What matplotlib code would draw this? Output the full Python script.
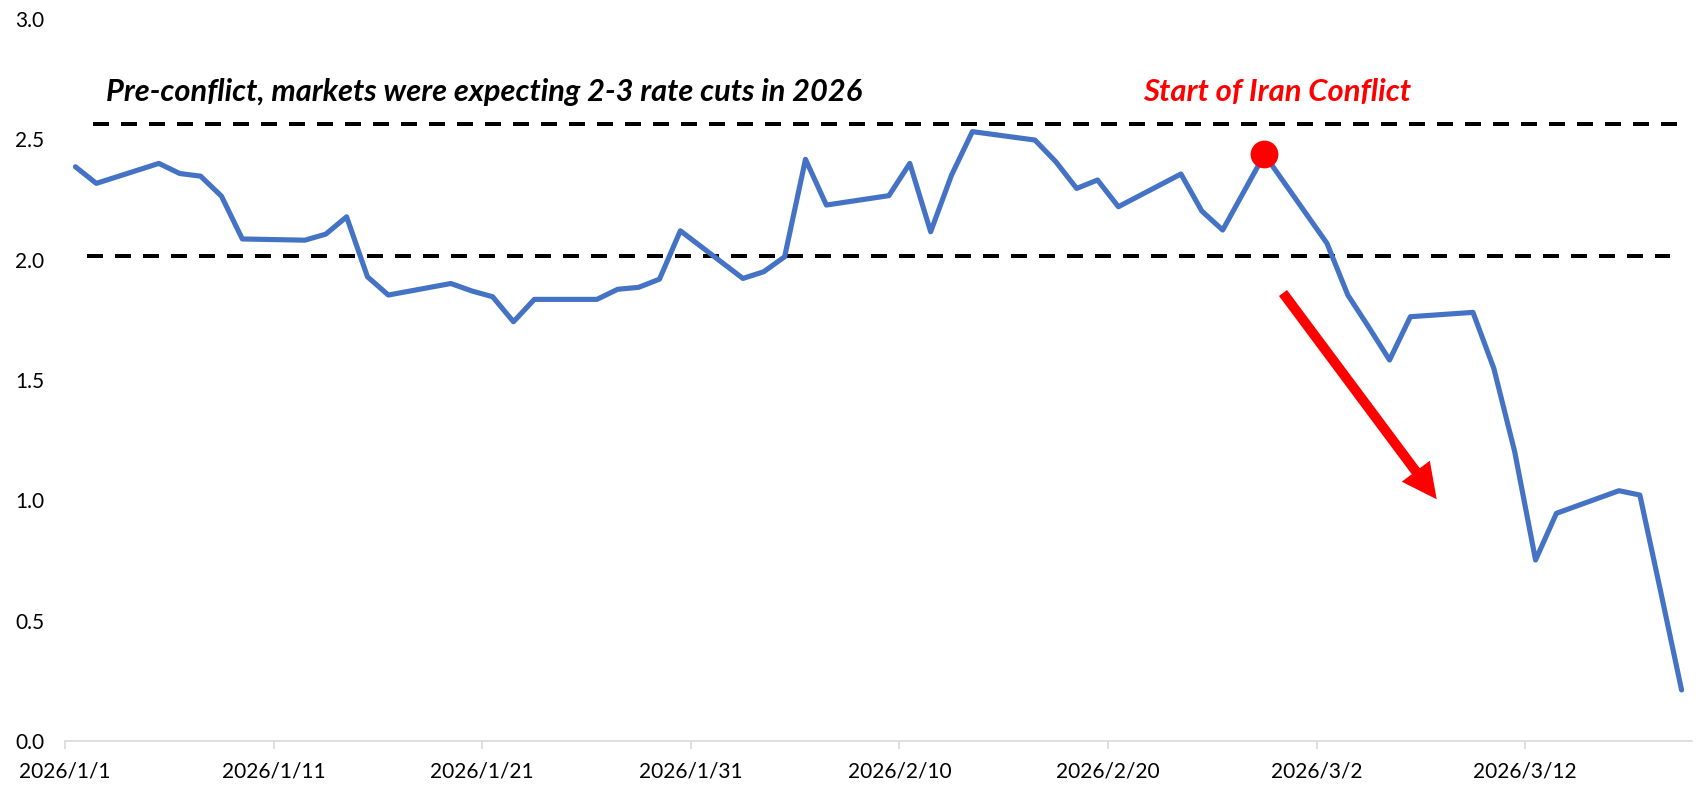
import matplotlib
matplotlib.use("Agg")
import matplotlib.pyplot as plt
import matplotlib.dates as mdates
from matplotlib.patches import FancyArrowPatch
import numpy as np
import pandas as pd

plt.rcParams['font.family'] = ['Lato', 'DejaVu Sans']

# ---- data ----
dates = ["2026-01-01", "2026-01-02", "2026-01-05", "2026-01-06", "2026-01-07", "2026-01-08",
         "2026-01-09", "2026-01-12", "2026-01-13", "2026-01-14", "2026-01-15", "2026-01-16",
         "2026-01-19", "2026-01-20", "2026-01-21", "2026-01-22", "2026-01-23", "2026-01-26",
         "2026-01-27", "2026-01-28", "2026-01-29", "2026-01-30", "2026-02-02", "2026-02-03",
         "2026-02-04", "2026-02-05", "2026-02-06", "2026-02-09", "2026-02-10", "2026-02-11",
         "2026-02-12", "2026-02-13", "2026-02-16", "2026-02-17", "2026-02-18", "2026-02-19",
         "2026-02-20", "2026-02-23", "2026-02-24", "2026-02-25", "2026-02-26", "2026-02-27",
         "2026-03-02", "2026-03-03", "2026-03-04", "2026-03-05", "2026-03-06", "2026-03-09",
         "2026-03-10", "2026-03-11", "2026-03-12", "2026-03-13", "2026-03-16", "2026-03-17",
         "2026-03-18", "2026-03-19"]
values = [2.386, 2.317, 2.400, 2.358, 2.347, 2.264,
          2.086, 2.081, 2.106, 2.178, 1.929, 1.853,
          1.901, 1.870, 1.846, 1.742, 1.835, 1.835,
          1.877, 1.885, 1.919, 2.120, 1.922, 1.950,
          2.012, 2.417, 2.227, 2.266, 2.400, 2.116,
          2.351, 2.532, 2.497, 2.407, 2.296, 2.331,
          2.220, 2.356, 2.202, 2.123, 2.280, 2.437,
          2.068, 1.853, 1.720, 1.583, 1.763, 1.781,
          1.548, 1.202, 0.752, 0.946, 1.040, 1.022,
          0.620, 0.212]
conflict_start = "2026-02-27"
tick_dates = ["2026-01-01", "2026-01-11", "2026-01-21", "2026-01-31",
              "2026-02-10", "2026-02-20", "2026-03-02", "2026-03-12"]
tick_labels = ["2026/1/1", "2026/1/11", "2026/1/21", "2026/1/31",
               "2026/2/10", "2026/2/20", "2026/3/2", "2026/3/12"]
y_ticks = [0.0, 0.5, 1.0, 1.5, 2.0, 2.5, 3.0]
y_tick_labels = ["0.0", "0.5", "1.0", "1.5", "2.0", "2.5", "3.0"]
upper_level = 2.563
lower_level = 2.016
text_main = "Pre-conflict, markets were expecting 2-3 rate cuts in 2026"
text_red = "Start of Iran Conflict"

# ---- figure ----
W, H = 1698, 785
fig = plt.figure(figsize=(W / 100, H / 100), dpi=100)
ax = fig.add_axes([65 / W, 1 - 741 / H, (1692 - 65) / W, (741 - 19) / H])

x = mdates.date2num(pd.to_datetime(dates)) + 0.5   # centred in day slot (Excel "between tick marks")
y = np.array(values)

ax.plot(x, y, color="#4472C4", lw=3.7, solid_joinstyle="round", solid_capstyle="round", zorder=3)

ci = dates.index(conflict_start)
ax.plot([x[ci]], [y[ci]], "o", color="#FF0000", ms=20, mec="none", zorder=4)

# dashed reference lines
ax.axhline(upper_level, xmin=(93 - 65) / 1627, xmax=(1677 - 65) / 1627,
           color="black", lw=2.88, dashes=(4, 3), zorder=2)
ax.axhline(lower_level, xmin=(87 - 65) / 1627, xmax=(1670 - 65) / 1627,
           color="black", lw=2.88, dashes=(4, 3), zorder=2)

# axes
x0 = mdates.date2num(pd.Timestamp("2026-01-01"))
ax.set_xlim(x0, x0 + 78)
ax.set_ylim(0, 3)
ax.set_xticks(mdates.date2num(pd.to_datetime(tick_dates)))
ax.set_xticklabels(tick_labels, fontsize=15, color="black")
ax.set_yticks(y_ticks)
ax.set_yticklabels(y_tick_labels, fontsize=15, color="black")
for s in ["top", "right", "left"]:
    ax.spines[s].set_visible(False)
ax.spines["bottom"].set_color("#D9D9D9")
ax.spines["bottom"].set_linewidth(1.2)
ax.tick_params(axis="x", direction="out", length=6, width=1.2, color="#D9D9D9", pad=9)
ax.tick_params(axis="y", length=0, pad=15)

# annotations
t1 = ax.text((106 - 65) / 1627, (741 - 101) / 722, text_main, transform=ax.transAxes,
             fontsize=16, fontweight="bold", fontstyle="italic", color="black",
             ha="left", va="baseline")
t2 = ax.text((1143 - 65) / 1627, (741 - 101) / 722, text_red, transform=ax.transAxes,
             fontsize=16, fontweight="bold", fontstyle="italic", color="#FF0000",
             ha="left", va="baseline")
fig.canvas.draw()
r = fig.canvas.get_renderer()
for t, target in [(t1, 757), (t2, 269)]:
    w = t.get_window_extent(r).width
    t.set_fontsize(t.get_fontsize() * target / w)

arrow = FancyArrowPatch(((1283 - 65) / 1627, (741 - 293) / 722),
                        ((1436.7 - 65) / 1627, (741 - 499.3) / 722),
                        transform=ax.transAxes,
                        arrowstyle="simple,head_length=25.2,head_width=25.2,tail_width=7.2",
                        mutation_scale=1, color="#FF0000", lw=0, shrinkA=0, shrinkB=0, zorder=5)
ax.add_patch(arrow)

fig.savefig("out.png", dpi=100)
